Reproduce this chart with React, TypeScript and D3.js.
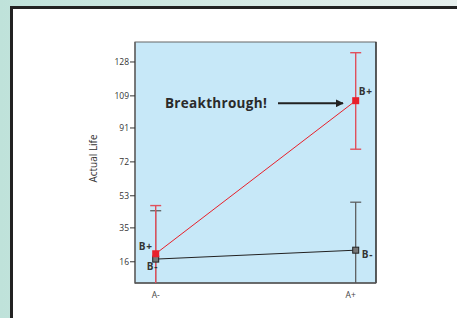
import React from "react";
import * as d3 from "d3";

const categories = ["A-", "A+"];
const yTicks = [16, 35, 53, 72, 91, 109, 128];
const seriesNames = ["B+", "B-"];
const bPlusMean = [20.5, 106.3];
const bPlusUpper = [47.5, 133.2];
const bPlusLower = [-6.5, 79.1];
const bMinusMean = [17.5, 22.5];
const bMinusUpper = [44.6, 49.4];
const bMinusLower = [-9.6, -4.4];
const annotation = "Breakthrough!";
const yTitle = "Actual Life";

export default function App() {
  const W = 457, H = 318;
  const left = 135, right = 376, top = 42, bottom = 283;
  const x = d3.scalePoint<string>().domain(categories).range([155.7, 355.7]);
  const y = d3.scaleLinear().domain([4.1, 139.2]).range([bottom, top]);
  const font = "'Open Sans', 'DejaVu Sans', sans-serif";
  const red = "#e8202a";
  const redBar = "#e0505c";
  const grayBar = "#555";
  const clipY = (v: number) => Math.max(v, 4.1);

  const line = d3.line<number>().x((_, i) => x(categories[i])!).y((v) => y(v));

  const errBars = (upper: number[], lower: number[], color: string, w: number) =>
    categories.map((c, i) => {
      const cx = x(c)!;
      const yl = lower[i] < 4.1 ? bottom : y(lower[i]);
      return (
        <g key={c} stroke={color} strokeWidth={w}>
          <line x1={cx} x2={cx} y1={y(upper[i])} y2={yl} />
          <line x1={cx - 5.5} x2={cx + 5.5} y1={y(upper[i])} y2={y(upper[i])} />
          {lower[i] >= 4.1 && <line x1={cx - 5.5} x2={cx + 5.5} y1={yl} y2={yl} />}
        </g>
      );
    });

  return (
    <svg width={W} height={H} style={{ position: "absolute", left: 0, top: 0 }}>
      <defs>
        <linearGradient id="bg" x1="0" y1="0" x2="1" y2="0">
          <stop offset="0" stopColor="#bfe2da" />
          <stop offset="0.5" stopColor="#d4e9e4" />
          <stop offset="1" stopColor="#e6efed" />
        </linearGradient>
        <marker id="ah" viewBox="0 0 10 10" refX="9" refY="5" markerWidth="4" markerHeight="4" orient="auto">
          <path d="M0,0 L10,5 L0,10 z" fill="#222" />
        </marker>
      </defs>
      <rect x={0} y={0} width={W} height={H} fill="url(#bg)" />
      <rect x={11.5} y={7.5} width={W + 20} height={H + 20} fill="#fff" stroke="#222" strokeWidth={3} />
      <rect x={left} y={top} width={right - left} height={bottom - top} fill="#c7e8f8" stroke="#666" strokeWidth={1} />
      <line x1={right} x2={right} y1={top} y2={bottom} stroke="#222" strokeWidth={1.2} />
      <line x1={left} x2={left} y1={top} y2={bottom + 0.5} stroke="#666" strokeWidth={1.5} />
      <line x1={left} x2={right} y1={bottom} y2={bottom} stroke="#555" strokeWidth={1.5} />

      {yTicks.map((t) => (
        <g key={t}>
          <line x1={left - 5} x2={left} y1={y(t)} y2={y(t)} stroke="#333" strokeWidth={1} />
          <text x={left - 6} y={y(t)} dy="0.35em" textAnchor="end" fontSize={8.5} fill="#333" fontFamily={font}>
            {t}
          </text>
        </g>
      ))}
      {categories.map((c, i) => (
        <text key={c} x={x(c)! - (i === 1 ? 5 : 0)} y={298} textAnchor="middle" fontSize={8.5} fill="#444" fontFamily={font}>
          {c}
        </text>
      ))}
      <text transform={`translate(97,158.5) rotate(-90)`} textAnchor="middle" fontSize={10} fill="#333" fontFamily={font}>
        {yTitle}
      </text>

      {errBars(bMinusUpper, bMinusLower, grayBar, 1.2)}
      {errBars(bPlusUpper, bPlusLower, redBar, 1.4)}

      <path d={line(bMinusMean.map(clipY)) || ""} fill="none" stroke="#222" strokeWidth={1} />
      <path d={line(bPlusMean) || ""} fill="none" stroke={red} strokeWidth={1} />

      {categories.map((c, i) => (
        <rect key={"m" + c} x={x(c)! - 3} y={y(bMinusMean[i]) - 3} width={6} height={6} fill="#777" stroke="#222" strokeWidth={1} />
      ))}
      {categories.map((c, i) => (
        <rect key={"p" + c} x={x(c)! - 3.5} y={y(bPlusMean[i]) - 3.5} width={7} height={7} fill={red} />
      ))}

      <g fontFamily={font} fontWeight="bold" fontSize={10} fill="#333" letterSpacing={0.8}>
        <text x={x("A-")! - 3} y={y(bPlusMean[0]) - 4} textAnchor="end">{seriesNames[0]}</text>
        <text x={x("A-")! - 9} y={y(bMinusMean[0]) + 11}>{seriesNames[1]}</text>
        <text x={x("A+")! + 3} y={y(bPlusMean[1]) - 6}>{seriesNames[0]}</text>
        <text x={x("A+")! + 6} y={y(bMinusMean[1]) + 8}>{seriesNames[1]}</text>
      </g>

      <text x={165} y={108} fontFamily={font} fontWeight="bold" fontSize={13.5} fill="#2a2a2a" letterSpacing={0.3}>
        {annotation}
      </text>
      <line x1={278} x2={343} y1={103.3} y2={103.3} stroke="#222" strokeWidth={2} markerEnd="url(#ah)" />
    </svg>
  );
}
